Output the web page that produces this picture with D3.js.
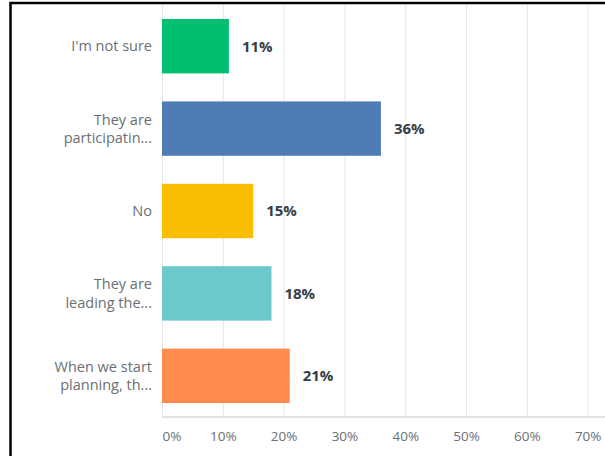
<!DOCTYPE html>
<html>
<head>
<meta charset="utf-8">
<script src="https://cdn.jsdelivr.net/npm/d3@7"></script>
<style>
  html, body { margin: 0; padding: 0; background: #fff; }
  svg { display: block; }
</style>
</head>
<body>
<div id="chart"></div>
<script>
// Survey answers, in display order (top to bottom)
const categories = [
  ["I'm not sure"],
  ["They are", "participatin..."],
  ["No"],
  ["They are", "leading the..."],
  ["When we start", "planning, th..."]
];
const values = [11, 36, 15, 18, 21];
const colors = ["#00bf6f", "#507cb6", "#f9be00", "#6bc8cd", "#ff8b4f"];
const tickValues = [0, 10, 20, 30, 40, 50, 60, 70];

const width = 605, height = 456;
const fontFamily = "'Open Sans', sans-serif";

const svg = d3.select("#chart").append("svg")
  .attr("width", width)
  .attr("height", height);

// frame around the chart area
svg.append("rect")
  .attr("x", 10.5).attr("y", 3)
  .attr("width", 620).attr("height", 480)
  .attr("fill", "none")
  .attr("stroke", "#000")
  .attr("stroke-width", 2.5);

const x = d3.scaleLinear().domain([0, 70]).range([162, 587.7]);
const y = d3.scaleBand()
  .domain(d3.range(values.length))
  .range([5, 417])
  .paddingInner(0.34)
  .paddingOuter(0.17);

// vertical gridlines
svg.append("g")
  .selectAll("line")
  .data(tickValues)
  .join("line")
  .attr("x1", d => x(d) + 0.5).attr("x2", d => x(d) + 0.5)
  .attr("y1", 5).attr("y2", 417)
  .attr("stroke", "#e6e6e6")
  .attr("stroke-width", 1);

// bottom baseline
svg.append("line")
  .attr("x1", x(0)).attr("x2", width)
  .attr("y1", 417).attr("y2", 417)
  .attr("stroke", "#d9d9d9")
  .attr("stroke-width", 1.5);

// x axis tick labels
const xAxis = d3.axisBottom(x)
  .tickValues(tickValues)
  .tickFormat(d => d + "%")
  .tickSize(0)
  .tickPadding(0);
const ax = svg.append("g")
  .attr("transform", "translate(0,431)")
  .call(xAxis);
ax.select(".domain").remove();
ax.selectAll("text")
  .attr("font-family", fontFamily)
  .attr("font-size", 13.5)
  .attr("fill", "#6a7075")
  .attr("text-anchor", d => d === 0 ? "start" : "middle");

// bars
svg.append("g")
  .selectAll("rect")
  .data(values)
  .join("rect")
  .attr("x", x(0))
  .attr("y", (d, i) => y(i))
  .attr("width", d => x(d) - x(0))
  .attr("height", y.bandwidth())
  .attr("fill", (d, i) => colors[i]);

// value labels
svg.append("g")
  .selectAll("text")
  .data(values)
  .join("text")
  .attr("x", d => x(d) + 13)
  .attr("y", (d, i) => y(i) + y.bandwidth() / 2)
  .attr("dy", "0.36em")
  .attr("font-family", fontFamily)
  .attr("font-size", 15)
  .attr("font-weight", "bold")
  .attr("fill", "#333e48")
  .text(d => d + "%");

// category labels (one or two lines each)
const lineHeight = 18.5;
const catSize = 14.5;
const cat = svg.append("g")
  .selectAll("text")
  .data(categories)
  .join("text")
  .attr("x", 152)
  .attr("y", (d, i) => y(i) + y.bandwidth() / 2)
  .attr("text-anchor", "end")
  .attr("font-family", fontFamily)
  .attr("font-size", catSize)
  .attr("fill", "#6a7075");
cat.each(function(lines) {
  const t = d3.select(this);
  const y0 = -(lines.length - 1) * lineHeight / 2;
  lines.forEach((ln, k) => {
    t.append("tspan")
      .attr("x", 152)
      .attr("dy", k === 0 ? (y0 / catSize + 0.36) + "em" : lineHeight + "px")
      .text(ln);
  });
});
</script>
</body>
</html>
